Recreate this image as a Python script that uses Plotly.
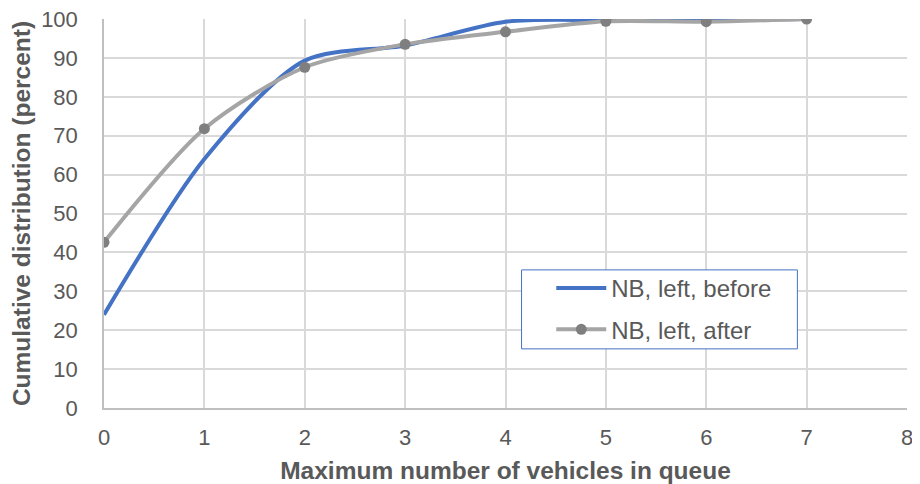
import plotly.graph_objects as go

# queue length (vehicles) and cumulative distribution (%)
queue = [0, 1, 2, 3, 4, 5, 6, 7]
before = [24, 64, 89.3, 93.2, 99.3, 99.7, 99.7, 100]
after = [42.6, 71.8, 87.6, 93.5, 96.7, 99.4, 99.3, 100]

fig = go.Figure()
fig.add_trace(go.Scatter(
    x=queue, y=before, name="NB, left, before", mode="lines", legendgroup="a",
    line=dict(color="#4472C4", width=4, shape="spline", smoothing=0.8)
))
fig.add_trace(go.Scatter(
    x=queue, y=after, name="NB, left, after", mode="lines+markers", legendgroup="b",
    line=dict(color="#A5A5A5", width=4, shape="spline", smoothing=0.8),
    marker=dict(color="#7F7F7F", size=11)
))

# legend frame (plotly's own legend sits inside it without a border)
fig.add_shape(type="rect", xref="paper", yref="paper",
              x0=0.52, x1=0.8635, y0=0.152, y1=0.355, layer="above",
              fillcolor="white", line=dict(color="#4472C4", width=1))

# page body has an 8px margin, so the figure is sized to fit inside it
fig.update_layout(
    width=904, height=476,
    margin=dict(l=96, r=5, t=11, b=76),
    paper_bgcolor="white", plot_bgcolor="white",
    font=dict(family="Liberation Sans, Arial", size=22, color="#595959"),
    xaxis=dict(
        range=[0, 8], dtick=1, showgrid=True, gridcolor="#D9D9D9", gridwidth=1.5,
        showline=True, linecolor="#BFBFBF", linewidth=1.5, zeroline=False,
        automargin=False, ticklabelstandoff=9, ticklabeloverflow="allow",
        title=dict(text="<b>Maximum number of vehicles in queue</b>", standoff=14,
                   font=dict(size=24.5)),
    ),
    yaxis=dict(
        range=[0, 100], dtick=10, showgrid=True, gridcolor="#D9D9D9", gridwidth=1.5,
        showline=True, linecolor="#BFBFBF", linewidth=1.5, zeroline=False,
        automargin=False, ticklabelstandoff=20, ticklabeloverflow="allow",
        title=dict(text="<b>Cumulative distribution (percent)</b>", standoff=6,
                   font=dict(size=24.5)),
    ),
    legend=dict(
        x=0.557, y=0.365, xanchor="left", yanchor="top",
        borderwidth=0, bgcolor="rgba(0,0,0,0)",
        font=dict(size=24, color="#595959"),
        itemwidth=50, tracegroupgap=7,
    ),
)

fig.write_html("out.html")
